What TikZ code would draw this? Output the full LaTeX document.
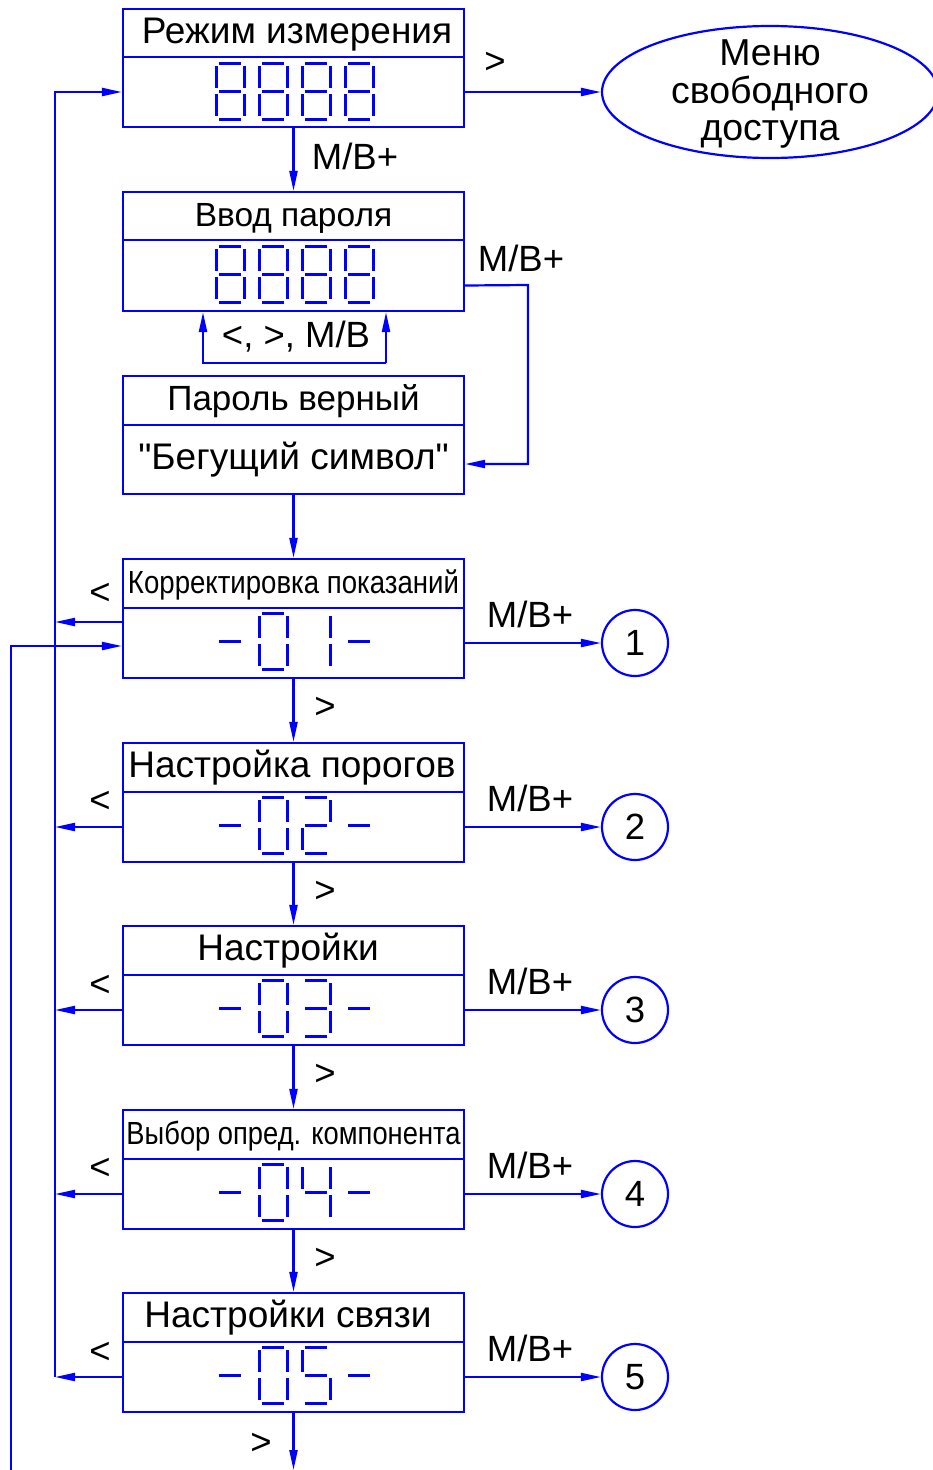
\documentclass[tikz,border=0pt]{standalone}
\usepackage{fontspec}
\setmainfont{Liberation Sans}[Ligatures=TeXOff]
\usepackage{graphicx}
\usetikzlibrary{arrows.meta,shapes.geometric}

\newcommand\sgA[2]{\draw[seg] (#1+3,#2-28) -- (#1+25,#2-28);}
\newcommand\sgB[2]{\draw[seg] (#1+28,#2-25) -- (#1+28,#2-3);}
\newcommand\sgC[2]{\draw[seg] (#1+28,#2+3) -- (#1+28,#2+25);}
\newcommand\sgD[2]{\draw[seg] (#1+3,#2+28) -- (#1+25,#2+28);}
\newcommand\sgE[2]{\draw[seg] (#1,#2+3) -- (#1,#2+25);}
\newcommand\sgF[2]{\draw[seg] (#1,#2-25) -- (#1,#2-3);}
\newcommand\sgG[2]{\draw[seg] (#1+3,#2) -- (#1+25,#2);}
\newcommand\ddigit[3]{\foreach \s in {#3}{\csname sg\s\endcsname{#1}{#2}}}
\newcommand\dispfour[5]{\ddigit{216}{#1}{#2}\ddigit{259}{#1}{#3}\ddigit{302}{#1}{#4}\ddigit{345}{#1}{#5}}

\begin{document}
\begin{tikzpicture}[x=1pt,y=-1pt,
  tbox/.style={draw=blue,line width=2.2pt,minimum width=341pt,inner sep=0pt,
    text height=26pt,text depth=6pt,font=\fontsize{37}{42}\selectfont},
  dbox/.style={draw=blue,line width=2.2pt,minimum width=341pt,inner sep=0pt},
  seg/.style={blue,line width=3pt},
  arr/.style={draw=blue,line width=2.2pt,-{Triangle[length=20pt,width=8pt]}},
  lab/.style={inner sep=0pt,font=\fontsize{36.5}{42}\selectfont},
  circ/.style={draw=blue,line width=2.2pt,circle,minimum size=66pt,inner sep=0pt,
    font=\fontsize{36.5}{42}\selectfont}]
\useasboundingbox (0,0) rectangle (932,1470);

% Box 1
\node[tbox,minimum height=48pt] (t1) at (293.5,33) {Режим измерения\kern-7pt};
\node[dbox,minimum height=70pt] (d1) at (293.5,92) {};
\dispfour{91}{A,B,C,D,E,F,G}{A,B,C,D,E,F,G}{A,B,C,D,E,F,G}{A,B,C,D,E,F,G}
% menu
\node[draw=blue,line width=2.2pt,ellipse,minimum width=336pt,minimum height=132pt,
  inner sep=0pt] (menu) at (770,92) {};
\node[align=center,inner sep=0pt,font=\fontsize{37.5}{37.5}\selectfont] (menutext) at (770,94)
  {Меню\\свободного\\доступа};

% Box 2
\node[tbox,minimum height=48pt,font=\fontsize{33.5}{40}\selectfont] (t2) at (293.5,216) {Ввод пароля};
\node[dbox,minimum height=71pt] (d2) at (293.5,275.5) {};
\dispfour{274}{A,B,C,D,E,F,G}{A,B,C,D,E,F,G}{A,B,C,D,E,F,G}{A,B,C,D,E,F,G}

% Box 3
\node[tbox,minimum height=49pt,font=\fontsize{35}{40}\selectfont] (t3) at (293.5,400.5) {Пароль верный};
\node[tbox,minimum height=69pt] (d3) at (293.5,459.5) {"Бегущий символ"};

% Boxes 4-8
\node[tbox,minimum height=49pt] (t4) at (293.5,583.5)
  {\resizebox{331pt}{\height}{\fontsize{32}{36}\selectfont Корректировка показаний}};
\node[dbox,minimum height=70pt] (d4) at (293.5,643) {};
\dispfour{641}{G}{A,B,C,D,E,F}{B,C}{G}

\node[tbox,minimum height=49pt] (t5) at (293.5,767.5) {\kern-3pt Настройка порогов};
\node[dbox,minimum height=70pt] (d5) at (293.5,827) {};
\dispfour{825}{G}{A,B,C,D,E,F}{A,B,G,E,D}{G}

\node[tbox,minimum height=49pt] (t6) at (293.5,950.5) {\kern-11pt Настройки};
\node[dbox,minimum height=70pt] (d6) at (293.5,1010) {};
\dispfour{1008}{G}{A,B,C,D,E,F}{A,B,G,C,D}{G}

\node[tbox,minimum height=49pt] (t7) at (293.5,1134.5)
  {\resizebox{334pt}{\height}{\fontsize{32}{36}\selectfont Выбор опред. компонента}};
\node[dbox,minimum height=70pt] (d7) at (293.5,1194) {};
\dispfour{1192}{G}{A,B,C,D,E,F}{F,G,B,C}{G}

\node[tbox,minimum height=49pt] (t8) at (293.5,1317.5) {\kern-11pt Настройки связи};
\node[dbox,minimum height=70pt] (d8) at (293.5,1377) {};
\dispfour{1375}{G}{A,B,C,D,E,F}{A,F,G,C,D}{G}

% circles
\node[circ] (c1) at (635,643) {1};
\node[circ] (c2) at (635,827) {2};
\node[circ] (c3) at (635,1010) {3};
\node[circ] (c4) at (635,1194) {4};
\node[circ] (c5) at (635,1377) {5};

% coordinates
\coordinate (bt) at (55,92);
\coordinate (bb) at (55,1377);
\coordinate (o1) at (11,1470);
\coordinate (o2) at (11,646);
\coordinate (r1) at (528,285);
\coordinate (r2) at (528,464);
\coordinate (l1) at (203,363);
\coordinate (l2) at (386,363);
\coordinate (endc) at (293.5,1470);

% connectors
\draw[arr] (d1.east) -- (menu.west);
\draw[arr] (d1.south) -- (t2.north);
\draw[arr] (l2) -- (l2 |- d2.south);
\draw[arr] (l2) -- (l1) -- (l1 |- d2.south);
\draw[arr] ([yshift=-10pt]d2.east) -- (r1) -- (r2) -- ([yshift=-4.5pt]d3.east);
\draw[arr] (d3.south) -- (t4.north);
\draw[arr] (bb) -- (bt) -- (d1.west);
\draw[arr] (o1) -- (o2) -- ([yshift=-3pt]d4.west);
\draw[arr] ([yshift=21pt]d4.west) -- ([yshift=21pt]d4.west -| bt);
\draw[arr] (d5.west) -- (d5.west -| bt);
\draw[arr] (d6.west) -- (d6.west -| bt);
\draw[arr] (d7.west) -- (d7.west -| bt);
\draw[arr] (d8.west) -- (d8.west -| bt);
\draw[arr] (d4.east) -- (c1);
\draw[arr] (d5.east) -- (c2);
\draw[arr] (d6.east) -- (c3);
\draw[arr] (d7.east) -- (c4);
\draw[arr] (d8.east) -- (c5);
\draw[arr] (d4.south) -- (t5.north);
\draw[arr] (d5.south) -- (t6.north);
\draw[arr] (d6.south) -- (t7.north);
\draw[arr] (d7.south) -- (t8.north);
\draw[arr] (d8.south) -- (endc);

% labels
\node[lab] (g1) at (495,63) {>};
\node[lab] (m0) at (355,156) {M/B+};
\node[lab] (m00) at (521,258) {M/B+};
\node[lab] (k1) at (296,337) {<, >, M/B};
\node[lab] (lt4) at (100,594) {<};
\node[lab] (lt5) at (100,802) {<};
\node[lab] (lt6) at (100,986) {<};
\node[lab] (lt7) at (100,1169) {<};
\node[lab] (lt8) at (100,1353) {<};
\node[lab] (m4) at (530,614) {M/B+};
\node[lab] (m5) at (530,798) {M/B+};
\node[lab] (m6) at (530,981) {M/B+};
\node[lab] (m7) at (530,1165) {M/B+};
\node[lab] (m8) at (530,1348) {M/B+};
\node[lab] (g4) at (325,708) {>};
\node[lab] (g5) at (325,892) {>};
\node[lab] (g6) at (325,1075) {>};
\node[lab] (g7) at (325,1259) {>};
\node[lab] (g8) at (261,1444) {>};
\end{tikzpicture}
\end{document}
